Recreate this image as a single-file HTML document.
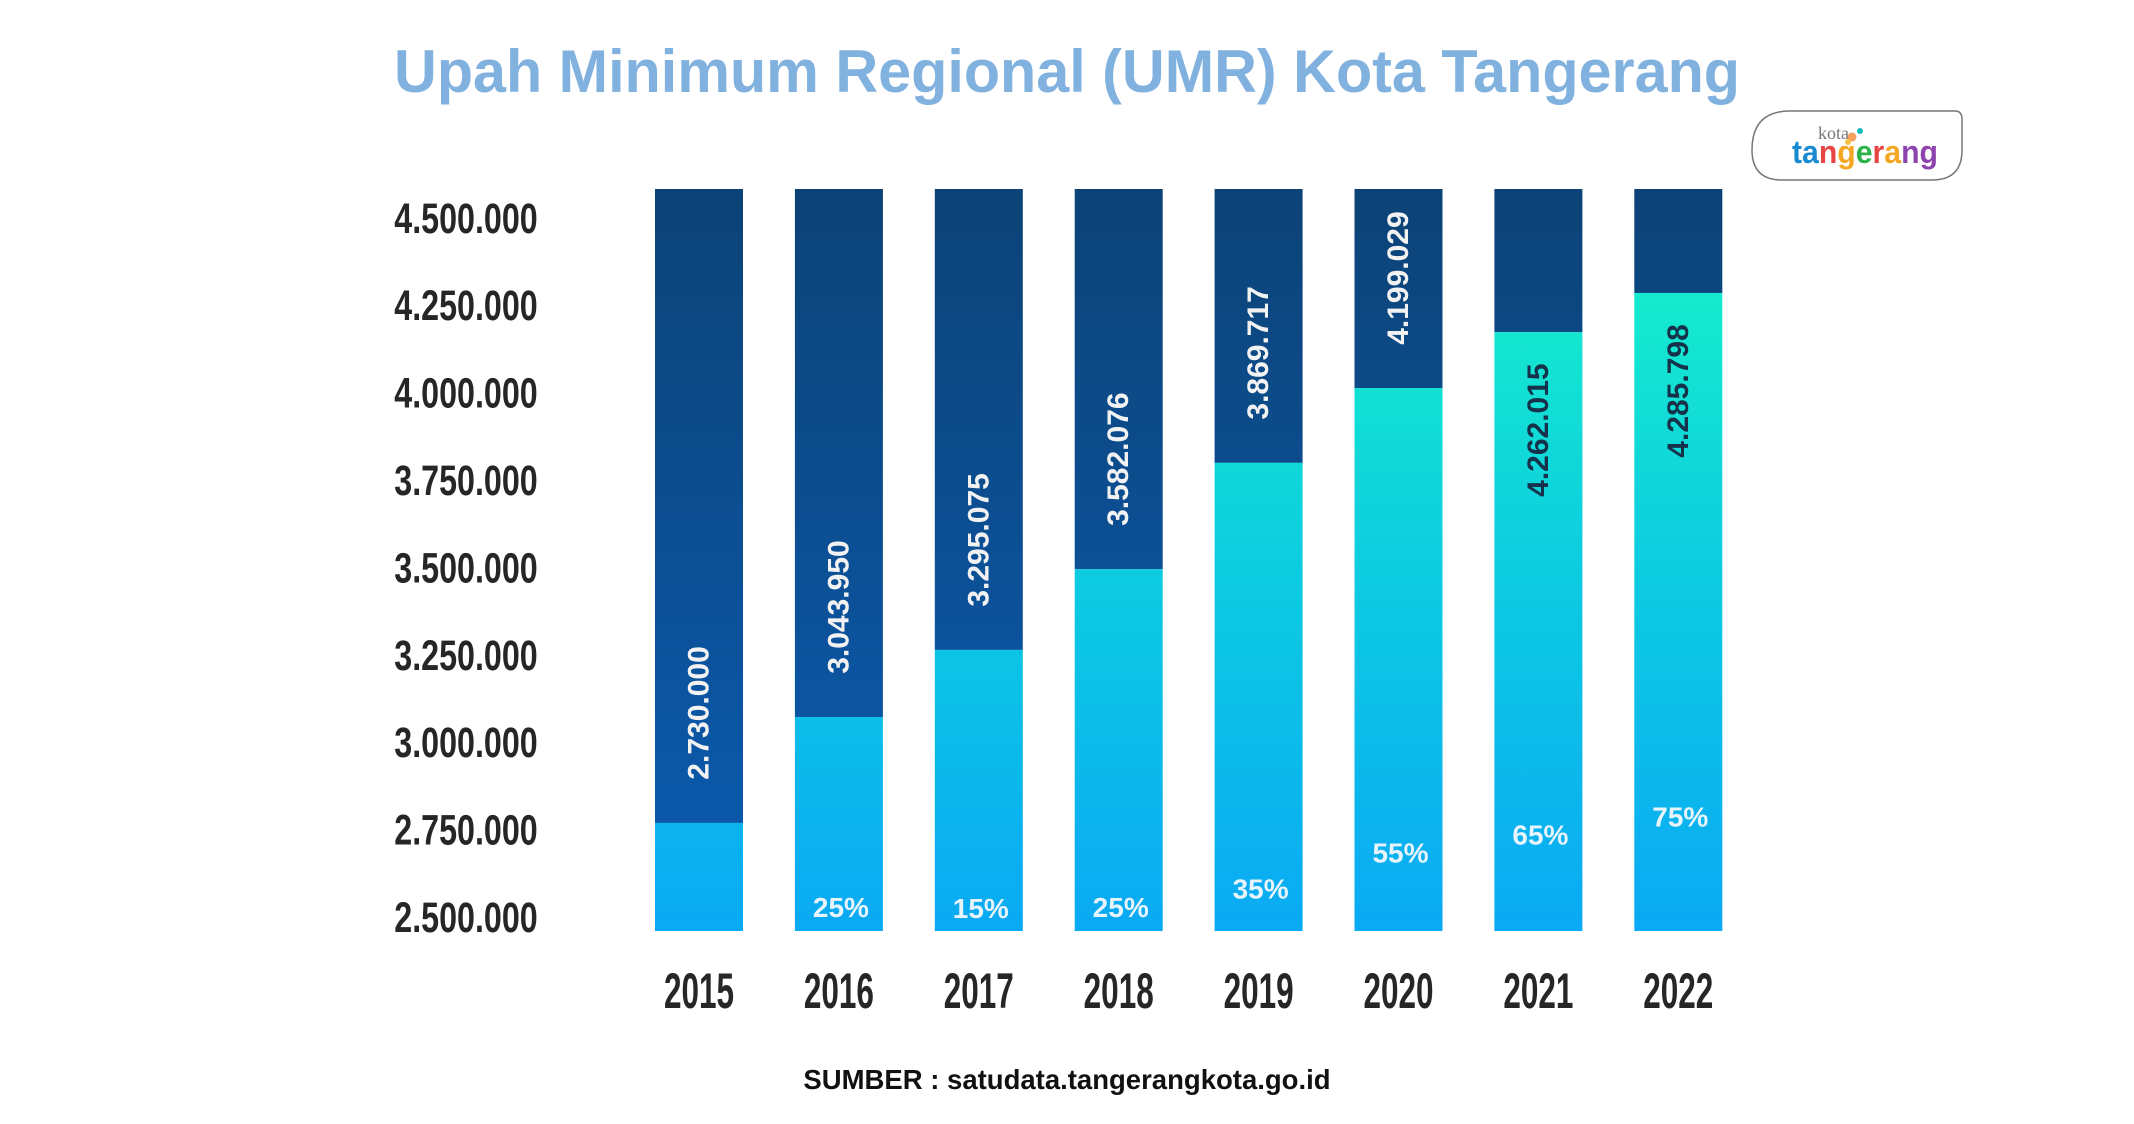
<!DOCTYPE html>
<html><head><meta charset="utf-8"><style>
html,body{margin:0;padding:0;background:#fff;width:2134px;height:1124px;overflow:hidden}
svg{display:block}
</style></head><body>
<svg id="chart" width="2134" height="1124" xmlns="http://www.w3.org/2000/svg">
<defs>
<linearGradient id="gLight" gradientUnits="userSpaceOnUse" x1="0" y1="189" x2="0" y2="931">
<stop offset="0" stop-color="#18f6c6"/><stop offset="0.5" stop-color="#0dcde0"/><stop offset="1" stop-color="#0aa9f4"/>
</linearGradient>
<linearGradient id="gDark" gradientUnits="userSpaceOnUse" x1="0" y1="189" x2="0" y2="931">
<stop offset="0" stop-color="#0c4377"/><stop offset="1" stop-color="#0b5cb3"/>
</linearGradient>
</defs>
<text x="1067" y="92" text-anchor="middle" font-family="Liberation Sans, sans-serif" font-weight="bold" font-size="60" textLength="1346" lengthAdjust="spacingAndGlyphs" fill="#80b1df">Upah Minimum Regional (UMR) Kota Tangerang</text>
<g transform="translate(-20 0)">
<path d="M1810 111 H1975 Q1982 111 1982 119 V150 Q1982 180 1952 180 H1802 Q1772 180 1772 150 Q1772 111 1810 111 Z" fill="#fff" stroke="#777" stroke-width="1.5"/>
<text x="1838" y="139" font-family="Liberation Serif, serif" font-size="18" fill="#777">kota</text>
<circle cx="1872" cy="137" r="4.5" fill="#f5a060"/><circle cx="1880" cy="131" r="3" fill="#1bb"/><circle cx="1868" cy="142" r="3" fill="#f5c242"/>
<text x="1812" y="163" font-family="Liberation Sans, sans-serif" font-weight="bold" font-size="32" textLength="146" lengthAdjust="spacingAndGlyphs"><tspan fill="#1a8ad0">ta</tspan><tspan fill="#e84545">n</tspan><tspan fill="#f5a623">g</tspan><tspan fill="#2db34a">e</tspan><tspan fill="#e84545">r</tspan><tspan fill="#f5a623">a</tspan><tspan fill="#8e44ad">ng</tspan></text>
</g>
<g id="yaxis"></g>
<g id="bars"></g>
<g id="xaxis"></g>
<text x="1067" y="1089" text-anchor="middle" font-family="Liberation Sans, sans-serif" font-weight="bold" font-size="27.5" fill="#111">SUMBER : satudata.tangerangkota.go.id</text>
</svg>
<script>
const years = ["2015","2016","2017","2018","2019","2020","2021","2022"];
const barValues = [2769000,3072000,3264000,3495000,3799000,4013000,4173000,4285000];
const umrLabels = ["2.730.000","3.043.950","3.295.075","3.582.076","3.869.717","4.199.029","4.262.015","4.285.798"];
const growthPct = [null,25,15,25,35,55,65,75];
const tickValues = [2500000,2750000,3000000,3250000,3500000,3750000,4000000,4250000,4500000];
const tickLabels = ["2.500.000","2.750.000","3.000.000","3.250.000","3.500.000","3.750.000","4.000.000","4.250.000","4.500.000"];

const NS="http://www.w3.org/2000/svg";
function yScale(v){return 917-(v-2500000)/250000*87.4;}
function xLeft(i){return 655+i*139.9;}
const barW=88, barTop=189, barBot=931;
function mk(tag,attrs,parent){const e=document.createElementNS(NS,tag);for(const k in attrs)e.setAttribute(k,attrs[k]);parent.appendChild(e);return e;}

const ya=document.getElementById('yaxis');
tickValues.forEach((v,i)=>{
  const t=mk('text',{x:466,y:yScale(v)+15,'text-anchor':'middle','font-family':'Liberation Sans, sans-serif','font-weight':'bold','font-size':'43',fill:'#262626',transform:'translate(466 0) scale(0.75 1) translate(-466 0)'},ya);
  
  
  t.textContent=tickLabels[i];
});

const bars=document.getElementById('bars');
const xa=document.getElementById('xaxis');
years.forEach((yr,i)=>{
  const x=xLeft(i), cx=x+barW/2, sy=yScale(barValues[i]);
  const g=mk('g',{},bars);
  
  
  const d=mk('rect',{x:x,y:barTop,width:barW,height:Math.max(0,sy-barTop),fill:'url(#gDark)'},g);
  
  
  const l=mk('rect',{x:x,y:sy,width:barW,height:Math.max(0,barBot-sy),fill:'url(#gLight)'},g);
  
  
  const inside = barValues[i]>4100000;
  const ly = inside ? sy+98 : sy-110;
  const vt=mk('text',{x:cx,y:ly,'text-anchor':'middle','dominant-baseline':'central','font-family':'Liberation Sans, sans-serif','font-weight':'bold','font-size':'30',fill:inside?'#15324a':'#f2f2f2',transform:`rotate(-90 ${cx} ${ly})`},g);
  
  
  vt.textContent=umrLabels[i];
  if(growthPct[i]!==null){
    const py=Math.min(918, 962-1.81*growthPct[i]);
    const pt=mk('text',{x:cx+2,y:py,'text-anchor':'middle','font-family':'Liberation Sans, sans-serif','font-weight':'bold','font-size':'28',fill:'#e8f4fb'},g);
    
    
    pt.textContent=growthPct[i]+'%';
  }
  const yt=mk('text',{x:cx,y:1008,'text-anchor':'middle','font-family':'Liberation Sans, sans-serif','font-weight':'bold','font-size':'50',fill:'#262626',transform:`translate(${cx} 0) scale(0.63 1) translate(${-cx} 0)`},xa);
  
  
  yt.textContent=yr;
});
</script>
</body></html>
